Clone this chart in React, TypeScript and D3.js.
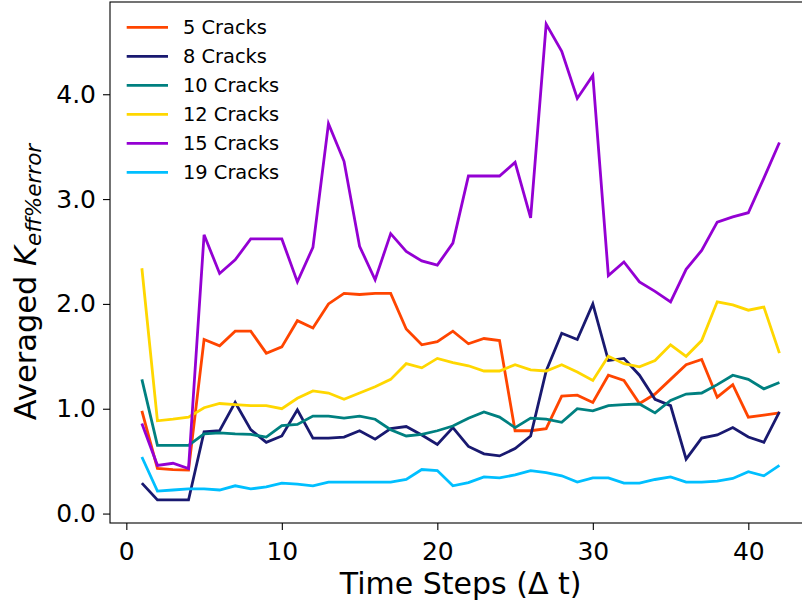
import { useEffect, useRef } from 'react';
import * as d3 from 'd3';

const steps = [1, 2, 3, 4, 5, 6, 7, 8, 9, 10, 11, 12, 13, 14, 15, 16, 17, 18, 19, 20, 21,
	22, 23, 24, 25, 26, 27, 28, 29, 30, 31, 32, 33, 34, 35, 36, 37, 38, 39, 40, 41, 42];

const cracks5 = [0.98, 0.43, 0.42, 0.415, 1.66, 1.60, 1.74, 1.74, 1.53, 1.59, 1.84, 1.77, 2.00, 2.10,
	2.09, 2.10, 2.10, 1.76, 1.61, 1.64, 1.74, 1.62, 1.67, 1.65, 0.79, 0.79, 0.81, 1.12, 1.13, 1.06,
	1.32, 1.27, 1.05, 1.14, 1.28, 1.42, 1.47, 1.11, 1.23, 0.92, 0.94, 0.96];
const cracks8 = [0.29, 0.13, 0.13, 0.13, 0.78, 0.79, 1.06, 0.80, 0.68, 0.74, 0.99, 0.72, 0.72, 0.73,
	0.79, 0.71, 0.81, 0.83, 0.75, 0.66, 0.82, 0.64, 0.57, 0.55, 0.62, 0.74, 1.36, 1.72, 1.66, 2.00,
	1.46, 1.48, 1.32, 1.09, 1.03, 0.52, 0.72, 0.75, 0.82, 0.73, 0.68, 0.97];
const cracks10 = [1.28, 0.65, 0.65, 0.65, 0.76, 0.77, 0.76, 0.755, 0.73, 0.84, 0.85, 0.93, 0.93, 0.91,
	0.93, 0.90, 0.80, 0.74, 0.755, 0.79, 0.835, 0.91, 0.97, 0.92, 0.82, 0.91, 0.90, 0.87, 1.00, 0.98,
	1.03, 1.04, 1.045, 0.96, 1.08, 1.14, 1.15, 1.23, 1.32, 1.28, 1.19, 1.25];
const cracks12 = [2.34, 0.885, 0.90, 0.92, 1.01, 1.05, 1.04, 1.03, 1.03, 1.00, 1.10, 1.17, 1.15, 1.09,
	1.15, 1.21, 1.28, 1.43, 1.39, 1.48, 1.44, 1.41, 1.36, 1.36, 1.42, 1.37, 1.36, 1.42, 1.35, 1.27,
	1.50, 1.43, 1.40, 1.46, 1.61, 1.50, 1.65, 2.02, 1.99, 1.94, 1.97, 1.53];
const cracks15 = [0.86, 0.46, 0.48, 0.43, 2.66, 2.29, 2.42, 2.62, 2.62, 2.62, 2.21, 2.54, 3.72, 3.36,
	2.55, 2.23, 2.67, 2.50, 2.41, 2.37, 2.58, 3.22, 3.22, 3.22, 3.35, 2.82, 4.67, 4.41, 3.96, 4.18,
	2.27, 2.40, 2.21, 2.12, 2.02, 2.33, 2.51, 2.78, 2.83, 2.87, 3.20, 3.54];
const cracks19 = [0.54, 0.215, 0.225, 0.235, 0.235, 0.225, 0.265, 0.235, 0.255, 0.29, 0.28, 0.265, 0.30, 0.30,
	0.30, 0.30, 0.30, 0.325, 0.42, 0.41, 0.265, 0.295, 0.35, 0.34, 0.37, 0.41, 0.39, 0.36, 0.30, 0.34,
	0.34, 0.29, 0.29, 0.325, 0.35, 0.30, 0.30, 0.31, 0.335, 0.40, 0.36, 0.46];

const seriesNames = ['5 Cracks', '8 Cracks', '10 Cracks', '12 Cracks', '15 Cracks', '19 Cracks'];
const seriesValues = [cracks5, cracks8, cracks10, cracks12, cracks15, cracks19];
const seriesColors = ['#ff4500', '#191970', '#008080', '#ffd700', '#9400d3', '#00bfff'];

const xTicks = [0, 10, 20, 30, 40];
const yTicks = [0, 1, 2, 3, 4];

const WIDTH = 802;
const HEIGHT = 607;
const FONT = '"DejaVu Sans", sans-serif';

function App() {
	const ref = useRef<SVGSVGElement | null>(null);

	useEffect(() => {
		document.body.style.margin = '0';
		const svg = d3.select(ref.current);
		svg.selectAll('*').remove();

		const left = 110, top = 2, bottom = 523;
		const xScale = d3.scaleLinear().domain([-1.05, 44.05]).range([left, 811.3]);
		const yScale = d3.scaleLinear().domain([-0.09, 4.88]).range([bottom, top]);

		svg.append('rect')
			.attr('width', WIDTH)
			.attr('height', HEIGHT)
			.attr('fill', '#fff');

		const line = d3.line<number>()
			.x((_, i) => xScale(steps[i]))
			.y(d => yScale(d));

		seriesValues.forEach((vals, k) => {
			svg.append('path')
				.datum(vals)
				.attr('fill', 'none')
				.attr('stroke', seriesColors[k])
				.attr('stroke-width', 2.8)
				.attr('stroke-linejoin', 'miter')
				.attr('d', line);
		});

		// frame
		svg.append('rect')
			.attr('x', left)
			.attr('y', top)
			.attr('width', 811.3 - left)
			.attr('height', bottom - top)
			.attr('fill', 'none')
			.attr('stroke', '#000')
			.attr('stroke-width', 1.1);

		const xAxis = svg.append('g')
			.attr('transform', `translate(0,${bottom})`)
			.call(d3.axisBottom(xScale).tickValues(xTicks).tickSize(7).tickSizeOuter(0).tickPadding(12)
				.tickFormat(d3.format('d')));
		const yAxis = svg.append('g')
			.attr('transform', `translate(${left},0)`)
			.call(d3.axisLeft(yScale).tickValues(yTicks).tickSize(7).tickSizeOuter(0).tickPadding(7)
				.tickFormat(d3.format('.1f')));

		[xAxis, yAxis].forEach(ax => {
			ax.select('.domain').remove();
			ax.selectAll('line').attr('stroke', '#000').attr('stroke-width', 1.1);
			ax.selectAll('text')
				.attr('fill', '#000')
				.style('font-family', FONT)
				.style('font-size', '25px');
		});

		// x label
		svg.append('text')
			.attr('x', (left + 811.3) / 2)
			.attr('y', 594)
			.attr('text-anchor', 'middle')
			.style('font-family', FONT)
			.style('font-size', '30px')
			.text('Time Steps (\u0394 t)');

		// y label
		const yl = svg.append('text')
			.attr('transform', 'translate(36,282) rotate(-90)')
			.attr('text-anchor', 'middle')
			.style('font-family', FONT)
			.style('font-size', '30.5px');
		yl.append('tspan').text('Averaged ');
		yl.append('tspan').style('font-style', 'italic').text('K');
		yl.append('tspan')
			.attr('dy', 5)
			.style('font-style', 'italic')
			.style('font-size', '21.5px')
			.text('eff%error');

		// legend
		const legend = svg.append('g');
		seriesNames.forEach((name, k) => {
			const ly = 27.3 + k * 29;
			legend.append('line')
				.attr('x1', 126.7)
				.attr('x2', 168)
				.attr('y1', ly)
				.attr('y2', ly)
				.attr('stroke', seriesColors[k])
				.attr('stroke-width', 2.8);
			legend.append('text')
				.attr('x', 183)
				.attr('y', ly)
				.attr('dy', '0.36em')
				.style('font-family', FONT)
				.style('font-size', '19.4px')
				.text(name);
		});
	}, []);

	return (
		<div style={{ position: 'absolute', left: 0, top: 0 }}>
			<svg ref={ref} width={WIDTH} height={HEIGHT} style={{ display: 'block' }}></svg>
		</div>
	);
}

export default App;
